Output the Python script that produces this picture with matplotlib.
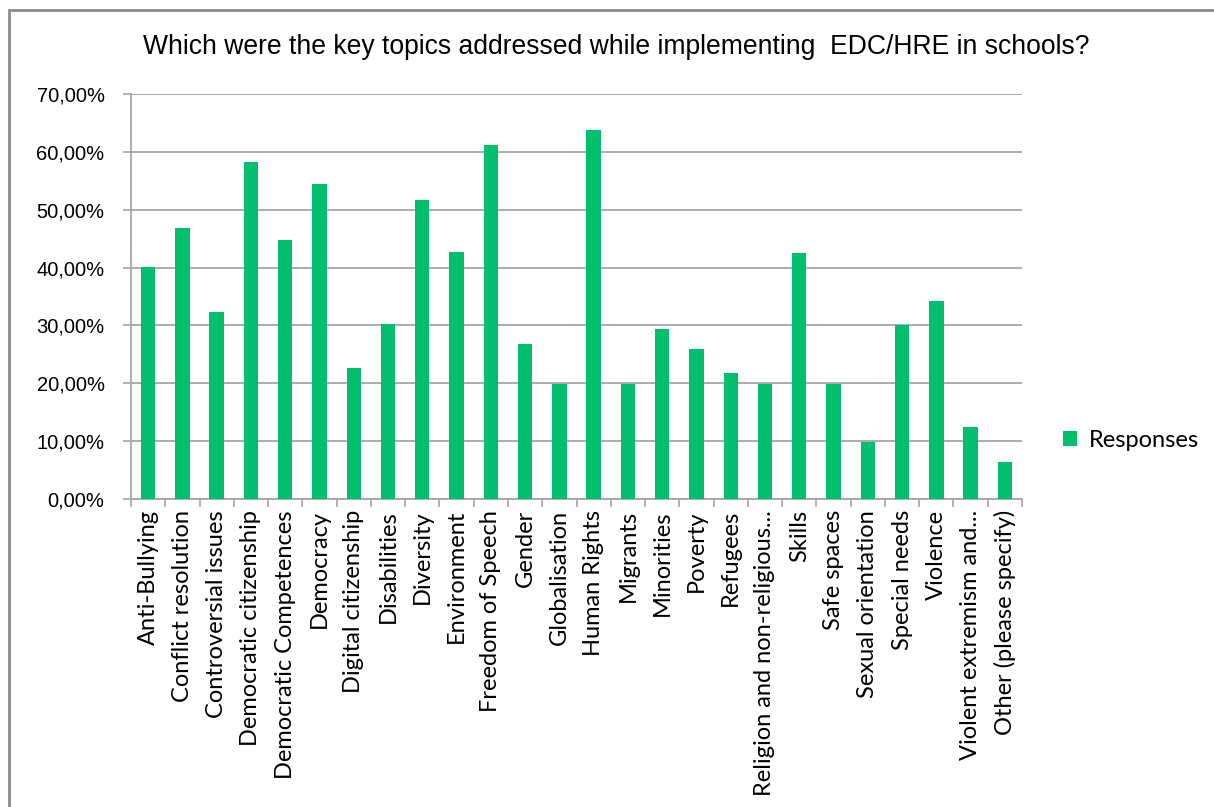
import matplotlib
matplotlib.use("Agg")
import matplotlib.pyplot as plt
from matplotlib.ticker import FuncFormatter, MultipleLocator
from matplotlib.patches import Rectangle

topics = ["Anti-Bullying", "Conflict resolution", "Controversial issues",
          "Democratic citizenship", "Democratic Competences", "Democracy",
          "Digital citizenship", "Disabilities", "Diversity", "Environment",
          "Freedom of Speech", "Gender", "Globalisation", "Human Rights",
          "Migrants", "Minorities", "Poverty", "Refugees",
          "Religion and non-religious...", "Skills", "Safe spaces",
          "Sexual orientation", "Special needs", "Violence",
          "Violent extremism and...", "Other (please specify)"]
responses = [40.1, 46.8, 32.4, 58.3, 44.8, 54.5, 22.6, 30.3, 51.6, 42.7,
             61.1, 26.8, 19.9, 63.8, 19.9, 29.3, 25.9, 21.7, 19.9, 42.5,
             19.9, 9.9, 30.1, 34.2, 12.4, 6.4]

green = "#00BF6F"
grid_c = "#a6a6a6"

fig = plt.figure(figsize=(12.14, 8.07), dpi=100)
ax = fig.add_axes([131 / 1214, 1 - 499 / 807, (1022 - 131) / 1214, (499 - 94) / 807])

x = range(len(topics))
ax.bar(x, responses, width=0.42, color=green, label="Responses", zorder=3)

ax.set_ylim(0, 70)
ax.set_xlim(-0.5, len(topics) - 0.5)
ax.yaxis.set_major_locator(MultipleLocator(10))
ax.yaxis.set_major_formatter(FuncFormatter(lambda v, p: f"{v:.2f}%".replace(".", ",")))
ax.grid(axis="y", color=grid_c, linewidth=1.3, zorder=0)

# ticks sit between the categories, labels in the middle
ax.set_xticks([i - 0.5 for i in range(len(topics) + 1)])
ax.set_xticklabels([])
ax.set_xticks(list(x), minor=True)
ax.set_xticklabels(topics, minor=True, rotation=90, family="Lato", fontsize=17)
ax.tick_params(axis="x", which="minor", length=0, pad=8)
ax.tick_params(axis="x", which="major", length=6, color=grid_c, width=1.2)
ax.tick_params(axis="y", length=6, color=grid_c, width=1.2, labelsize=14.5, pad=13)
for lbl in ax.get_yticklabels():
    lbl.set_family("Liberation Sans")

for s in ["top", "right"]:
    ax.spines[s].set_visible(False)
ax.spines["left"].set_color(grid_c)
ax.spines["bottom"].set_color(grid_c)
ax.spines["left"].set_linewidth(1.3)
ax.spines["bottom"].set_linewidth(1.3)

fig.text(0.508, 0.942, "Which were the key topics addressed while implementing  EDC/HRE in schools?",
         ha="center", va="center", fontsize=19.1, family="Liberation Sans")

fig.legend(loc="center left", bbox_to_anchor=(1042 / 1214, 1 - 440 / 807),
           frameon=False, prop={"family": "Lato", "size": 17},
           handlelength=0.6, handleheight=0.6, handletextpad=0.5)

# outer chart frame, cut off at right and bottom like the screenshot
fig.patches.append(Rectangle((9 / 1214, -0.1), 1.2, 1 - 10 / 807 + 0.1,
                             transform=fig.transFigure, fill=False,
                             edgecolor="#8c8c8c", linewidth=2))

fig.savefig("out.png", dpi=100)
